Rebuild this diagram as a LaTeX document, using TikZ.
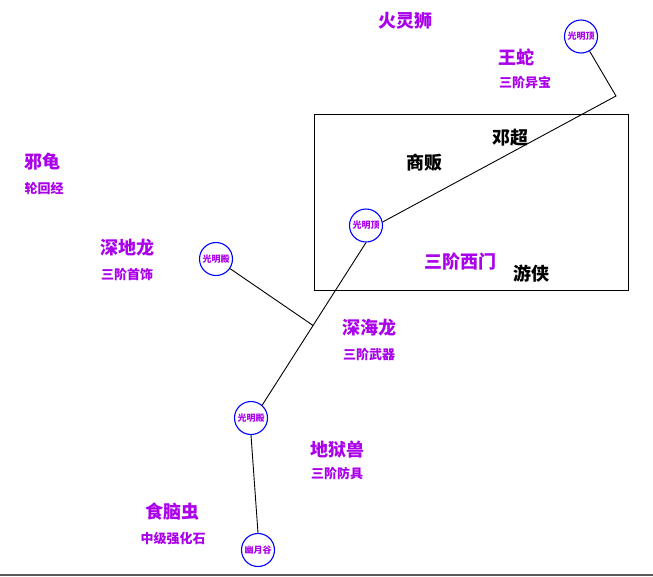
\documentclass[tikz,border=0pt]{standalone}
\usepackage{fontspec}
\newfontfamily\cjk{Noto Sans CJK SC}
\usetikzlibrary{calc}
\definecolor{labpurple}{RGB}{170,0,235}
\definecolor{ringblue}{RGB}{0,0,255}
\begin{document}
\begin{tikzpicture}[x=1pt,y=-1pt,
  ringnode/.style={circle,draw=ringblue,line width=1.1pt,minimum size=33pt,inner sep=0pt,text=labpurple,font=\cjk\bfseries\fontsize{9}{9}\selectfont},
  labbig/.style={text=labpurple,font=\cjk\bfseries\fontsize{18}{18}\selectfont,inner sep=0pt},
  labsmall/.style={text=labpurple,font=\cjk\bfseries\fontsize{13}{13}\selectfont,inner sep=0pt},
  labdark/.style={text=black,font=\cjk\bfseries\fontsize{18}{18}\selectfont,inner sep=0pt},
  link/.style={draw=black,line width=0.9pt}]
\fill[white] (0,0) rectangle (653,576);
\useasboundingbox (0,0) rectangle (653,576);
\draw[gray!70!black,line width=2pt] (0,575) -- (653,575);

% zone rectangle
\draw[line width=1pt] (314,114) rectangle (628,290);

% ring nodes
\node[ringnode] (c1) at (581,36.5) {光明顶};
\node[ringnode] (c2) at (366,225.5) {光明顶};
\node[ringnode] (c3) at (216,259) {光明殿};
\node[ringnode] (c4) at (251,418) {光明殿};
\node[ringnode] (c5) at (258,550) {幽月谷};

% connectors
\coordinate (bend) at (616,96);
\draw[link] (c1) -- (bend) -- (c2.12);
\draw[link] (c2.south) -- (c4.49);
\coordinate (junc) at ($(c2.south)!0.51!(c4.49)$);
\draw[link] (c3) -- (junc);
\draw[link] (c4.south) -- (c5.north);

% labels
\node[labbig] (t1) at (405,21) {火灵狮};
\node[labbig] (t2) at (516,57) {王蛇};
\node[labsmall] (t3) at (525,83) {三阶异宝};
\node[labbig] (t4) at (42,162) {邪龟};
\node[labsmall] (t5) at (44,188.5) {轮回经};
\node[labbig] (t6) at (127.5,248) {深地龙};
\node[labsmall] (t7) at (127,275) {三阶首饰};
\node[labbig] (t8) at (369,328) {深海龙};
\node[labsmall] (t9) at (369,355) {三阶武器};
\node[labbig] (t10) at (337,450) {地狱兽};
\node[labsmall] (t11) at (337,474) {三阶防具};
\node[labbig] (t12) at (172,512) {食脑虫};
\node[labsmall] (t13) at (173,539) {中级强化石};
\node[labdark] (t14) at (510,138) {邓超};
\node[labdark] (t15) at (424,163) {商贩};
\node[labbig] (t16) at (460,262) {三阶西门};
\node[labdark] (t17) at (531,274) {游侠};
\end{tikzpicture}
\end{document}
